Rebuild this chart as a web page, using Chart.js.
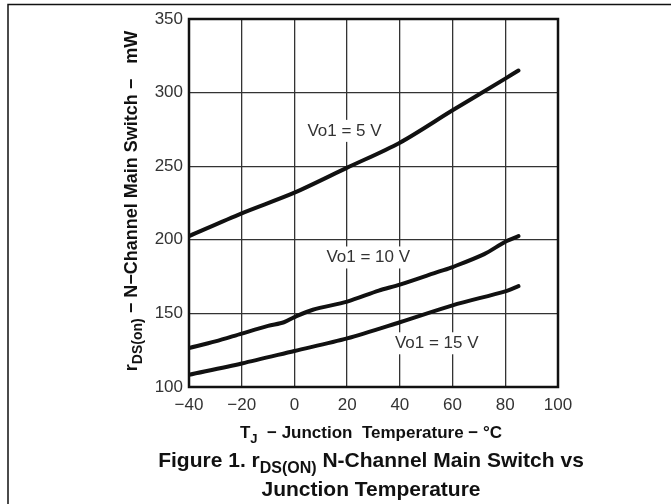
<!DOCTYPE html>
<html>
<head>
<meta charset="utf-8">
<script src="https://cdn.jsdelivr.net/npm/chart.js@4/dist/chart.umd.min.js"></script>
<style>
  html, body { margin: 0; padding: 0; background: #fff; }
  #wrap { width: 671px; height: 504px; position: relative; }
</style>
</head>
<body>
<div id="wrap"><canvas id="rds-chart" width="671" height="504"></canvas></div>
<script>
// junction temperature (degC) and rDS(on)
var temp5 = [-40, -20, 0, 20, 40, 60, 80, 85];
var rds5 = [202.5, 218, 232, 249, 266, 288, 309.5, 315];

var temp10 = [-40, -30, -20, -10, -4, 0, 7, 20, 32, 40, 55, 60, 72, 80, 85];
var rds10 = [126.5, 131, 136.3, 141.5, 144, 147.5, 152.5, 158, 165.5, 169.5, 178.5, 181.5, 190.3, 198.7, 202.5];

var temp15 = [-40, -20, 0, 20, 40, 60, 80, 85];
var rds15 = [108.3, 116, 124.5, 133, 144, 155.5, 165, 168.5];

var xTicks = [-40, -20, 0, 20, 40, 60, 80, 100];
var yTicks = [100, 150, 200, 250, 300, 350];

var curveLabels = ["Vo1 = 5 V", "Vo1 = 10 V", "Vo1 = 15 V"];

function pts(xs, ys) {
    return xs.map(function(x, i) { return { x: x, y: ys[i] }; });
}

// label anchors in data units (centre of text)
var labelAt = [[19, 274], [28, 188], [54, 129.7]];

var FONT = '"Liberation Sans", Arial, Helvetica, sans-serif';

// draws a run of [text, isSub] pieces centred at (cx, by)
function richText(ctx, parts, cx, by, size) {
    var subSize = Math.round(size * 0.78);
    var w = 0;
    parts.forEach(function(p) {
        ctx.font = "bold " + (p[1] ? subSize : size) + "px " + FONT;
        w += ctx.measureText(p[0]).width;
    });
    var x = cx - w / 2;
    parts.forEach(function(p) {
        ctx.font = "bold " + (p[1] ? subSize : size) + "px " + FONT;
        ctx.fillText(p[0], x, p[1] ? by + size * 0.3 : by);
        x += ctx.measureText(p[0]).width;
    });
}

var decor = {
    id: "decor",
    beforeDatasetsDraw: function(chart) {
        var c = chart.ctx, xs = chart.scales.x, ys = chart.scales.y;
        c.save();
        c.font = "17px " + FONT;
        c.textAlign = "center";
        c.textBaseline = "middle";
        curveLabels.forEach(function(t, i) {
            var px = xs.getPixelForValue(labelAt[i][0]);
            var py = ys.getPixelForValue(labelAt[i][1]);
            var w = c.measureText(t).width;
            c.fillStyle = "#fff";
            c.fillRect(px - w / 2 - 3, py - 11, w + 6, 22);
            c.fillStyle = "#333";
            c.fillText(t, px, py);
        });
        c.restore();
    },
    afterDraw: function(chart) {
        var c = chart.ctx, a = chart.chartArea;
        c.save();
        // plot frame
        c.strokeStyle = "#111";
        c.lineWidth = 2.5;
        c.strokeRect(a.left, a.top, a.right - a.left, a.bottom - a.top);
        // page frame
        c.lineWidth = 1.5;
        c.beginPath();
        c.moveTo(8, 504);
        c.lineTo(8, 4.5);
        c.lineTo(671, 4.5);
        c.stroke();

        c.fillStyle = "#111";
        c.textAlign = "left";
        c.textBaseline = "alphabetic";
        richText(c, [["T", 0], ["J", 1], ["  \u2212 Junction  Temperature \u2212 \u00b0C", 0]], 371, 438, 17);
        richText(c, [["Figure 1. r", 0], ["DS(ON)", 1], [" N-Channel Main Switch vs", 0]], 371, 467, 21);
        richText(c, [["Junction Temperature", 0]], 371, 496, 21);

        c.translate(137, 201);
        c.rotate(-Math.PI / 2);
        richText(c, [["r", 0], ["DS(on)", 1], [" \u2212 N\u2212Channel Main Switch \u2212   mW", 0]], 0, 0, 18);
        c.restore();
    }
};

var lineStyle = {
    borderColor: "#111",
    borderWidth: 4,
    pointRadius: 0,
    fill: false,
    tension: 0.3,
    borderCapStyle: "round"
};

new Chart(document.getElementById("rds-chart").getContext("2d"), {
    type: "line",
    data: {
        datasets: [
            Object.assign({ label: curveLabels[0], data: pts(temp5, rds5) }, lineStyle),
            Object.assign({ label: curveLabels[1], data: pts(temp10, rds10) }, lineStyle),
            Object.assign({ label: curveLabels[2], data: pts(temp15, rds15) }, lineStyle)
        ]
    },
    options: {
        responsive: false,
        animation: false,
        layout: { padding: { top: 19, right: 113, left: 0, bottom: 0 } },
        plugins: { legend: { display: false }, tooltip: { enabled: false } },
        scales: {
            x: {
                type: "linear",
                min: -40,
                max: 100,
                afterBuildTicks: function(s) { s.ticks = xTicks.map(function(v) { return { value: v }; }); },
                afterFit: function(s) { s.height = 117; },
                grid: { color: "#333", lineWidth: 1.3, drawTicks: false },
                border: { display: false },
                ticks: { color: "#333", font: { family: FONT, size: 17 }, padding: 8, maxRotation: 0,
                    callback: function(v) { return v < 0 ? "\u2212" + Math.abs(v) : v; } }
            },
            y: {
                min: 100,
                max: 350,
                afterBuildTicks: function(s) { s.ticks = yTicks.map(function(v) { return { value: v }; }); },
                afterFit: function(s) { s.width = 189; },
                grid: { color: "#333", lineWidth: 1.3, drawTicks: false },
                border: { display: false },
                ticks: { color: "#333", font: { family: FONT, size: 17 }, padding: 6 }
            }
        }
    },
    plugins: [decor]
});
</script>
</body>
</html>
